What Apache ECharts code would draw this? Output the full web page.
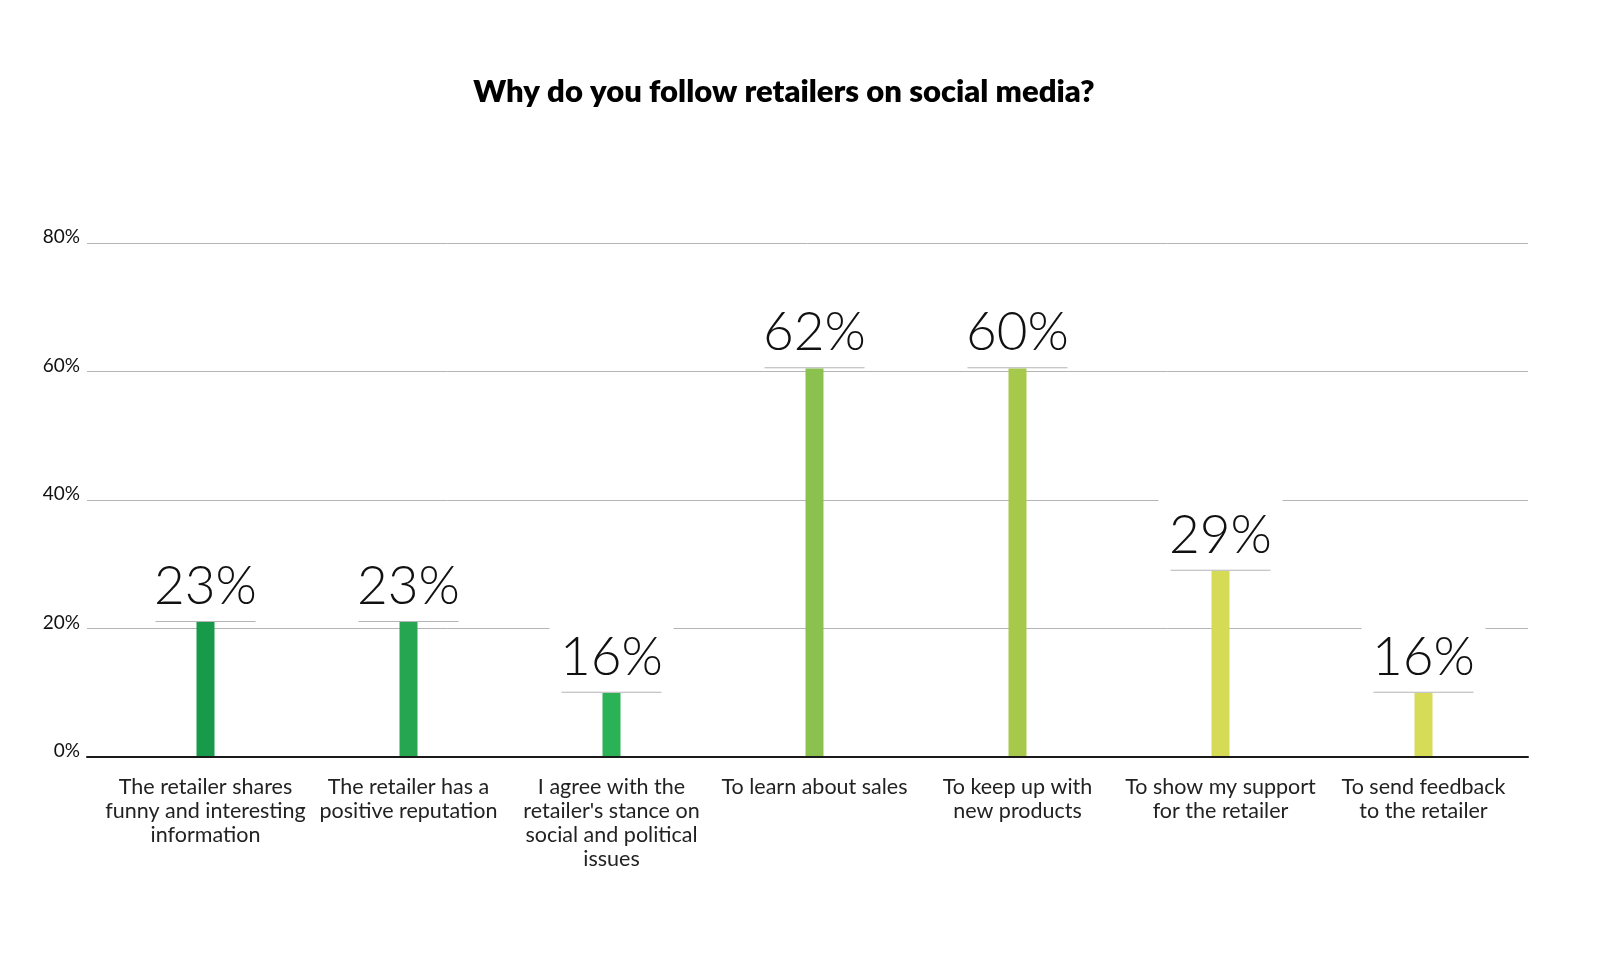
<!DOCTYPE html>
<html>
<head>
<meta charset="utf-8">
<title>Why do you follow retailers on social media?</title>
<script src="https://cdn.jsdelivr.net/npm/echarts@6/dist/echarts.min.js"></script>
<style>
  html, body { margin: 0; padding: 0; background: #fff; }
  #chart { width: 1600px; height: 960px; }
</style>
</head>
<body>
<div id="chart"></div>
<script>
// data
const categories = [
  'The retailer shares\nfunny and interesting\ninformation',
  'The retailer has a\npositive reputation',
  'I agree with the\nretailer\'s stance on\nsocial and political\nissues',
  'To learn about sales',
  'To keep up with\nnew products',
  'To show my support\nfor the retailer',
  'To send feedback\nto the retailer'
];
// heights the bars are drawn at
const barValues = [21, 21, 10, 60.5, 60.5, 29, 10];
// numbers printed above the bars
const labelValues = [23, 23, 16, 62, 60, 29, 16];
const barColors = ['#179a4a', '#26a650', '#2bb156', '#8bc14e', '#a7c94b', '#d5db55', '#d6dc56'];
const yMin = 0;
const yMax = 80;
const yStep = 20;

const font = 'Lato, "Open Sans", sans-serif';
const gridBox = { top: 243, bottom: 203 };

const chart = echarts.init(document.getElementById('chart'));

const option = {
  animation: false,
  graphic: [{
    type: 'text',
    x: 784,
    y: 92,
    style: {
      text: 'Why do you follow retailers on social media?',
      fontFamily: font,
      fontSize: 31,
      fontWeight: 800,
      fill: '#000',
      textAlign: 'center',
      textVerticalAlign: 'middle'
    }
  }],
  grid: [
    // gridlines, y labels and baseline
    { left: 87, right: 72, ...gridBox },
    // bars and category labels
    { left: 104, right: 75, ...gridBox }
  ],
  xAxis: [
    {
      gridIndex: 0,
      type: 'category',
      data: categories,
      z: 3,
      axisLine: { lineStyle: { color: '#1a1a1a', width: 2 } },
      axisTick: { show: false },
      axisLabel: { show: false }
    },
    {
      gridIndex: 1,
      type: 'category',
      data: categories,
      axisLine: { show: false },
      axisTick: { show: false },
      axisLabel: {
        interval: 0,
        margin: 18,
        color: '#222',
        fontFamily: font,
        fontSize: 21.5,
        lineHeight: 24,
        align: 'center'
      }
    }
  ],
  yAxis: [
    {
      gridIndex: 0,
      type: 'value',
      min: yMin,
      max: yMax,
      interval: yStep,
      axisLine: { show: false },
      axisTick: { show: false },
      splitLine: { lineStyle: { color: '#b5b5b5', width: 1 } },
      axisLabel: {
        formatter: '{value}%',
        margin: 7,
        color: '#111',
        fontFamily: font,
        fontSize: 19,
        verticalAlign: 'bottom',
        lineHeight: 12
      }
    },
    {
      gridIndex: 1,
      type: 'value',
      min: yMin,
      max: yMax,
      interval: yStep,
      show: false
    }
  ],
  series: [{
    type: 'bar',
    xAxisIndex: 1,
    yAxisIndex: 1,
    barWidth: 18,
    data: barValues.map((v, i) => ({
      value: v,
      itemStyle: { color: barColors[i] },
      label: { formatter: '{v|' + labelValues[i] + '%}\n{u| }' }
    })),
    label: {
      show: true,
      position: 'top',
      distance: 0,
      backgroundColor: '#fff',
      padding: [10, 12, 0, 12],
      rich: {
        v: {
          fontFamily: font,
          fontSize: 53,
          fontWeight: 300,
          color: '#111',
          lineHeight: 68,
          width: 100,
          align: 'center'
        },
        u: {
          fontSize: 1,
          width: 100,
          height: 1,
          lineHeight: 1,
          backgroundColor: '#b5b5b5'
        }
      }
    }
  }]
};

chart.setOption(option);
</script>
</body>
</html>
